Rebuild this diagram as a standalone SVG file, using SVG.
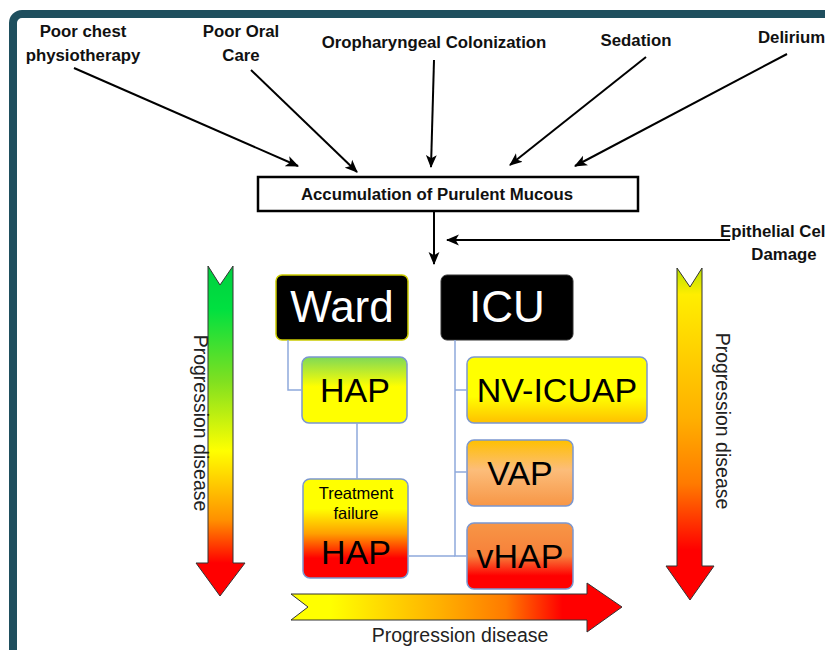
<svg xmlns="http://www.w3.org/2000/svg" width="825" height="650" viewBox="0 0 825 650">
<style>
.lbl{font-family:"Liberation Sans",Arial,sans-serif;font-weight:bold;font-size:16.8px;fill:#111;text-anchor:middle}
.big{font-family:"Liberation Sans",Arial,sans-serif;font-size:34px;fill:#000;text-anchor:middle}
.prog{font-family:"Liberation Sans",Arial,sans-serif;font-size:19.5px;fill:#222;text-anchor:middle}
.conn{stroke:#000;stroke-width:2;fill:none;marker-end:url(#ah)}
.tree{stroke:#8ea9db;stroke-width:1.5;fill:none}
.node{stroke:#7b97d0;stroke-width:1.5}
</style>
<defs>
<marker id="ah" viewBox="0 0 12 10" refX="11" refY="5" markerWidth="6.5" markerHeight="6" markerUnits="strokeWidth" orient="auto">
<path d="M0,0 L12,5 L0,10 L3,5 Z" fill="#000"/>
</marker>
<linearGradient id="gHAP" x1="0" y1="0" x2="0" y2="1">
<stop offset="0" stop-color="#7ed957"/><stop offset="0.45" stop-color="#ffff00"/><stop offset="1" stop-color="#ffff00"/>
</linearGradient>
<linearGradient id="gTF" x1="0" y1="0" x2="0" y2="1">
<stop offset="0" stop-color="#ffff00"/><stop offset="0.3" stop-color="#ffff00"/><stop offset="0.55" stop-color="#ffa000"/><stop offset="0.8" stop-color="#ff0000"/><stop offset="1" stop-color="#ff0000"/>
</linearGradient>
<linearGradient id="gNV" x1="0" y1="0" x2="0" y2="1">
<stop offset="0" stop-color="#ffff00"/><stop offset="0.6" stop-color="#ffff00"/><stop offset="1" stop-color="#ffc000"/>
</linearGradient>
<linearGradient id="gVAP" x1="0" y1="0" x2="0" y2="1">
<stop offset="0" stop-color="#ffc000"/><stop offset="0.45" stop-color="#fcbd7a"/><stop offset="1" stop-color="#f79646"/>
</linearGradient>
<linearGradient id="gvHAP" x1="0" y1="0" x2="0" y2="1">
<stop offset="0" stop-color="#f79646"/><stop offset="0.5" stop-color="#f7803a"/><stop offset="0.8" stop-color="#ff0000"/><stop offset="1" stop-color="#ff0000"/>
</linearGradient>
<linearGradient id="gL" gradientUnits="userSpaceOnUse" x1="0" y1="266" x2="0" y2="596">
<stop offset="0" stop-color="#00d040"/><stop offset="0.13" stop-color="#00e040"/><stop offset="0.35" stop-color="#80e020"/><stop offset="0.56" stop-color="#ffff00"/><stop offset="0.77" stop-color="#ff9000"/><stop offset="0.9" stop-color="#ff0000"/><stop offset="1" stop-color="#ff0000"/>
</linearGradient>
<linearGradient id="gR" gradientUnits="userSpaceOnUse" x1="0" y1="268" x2="0" y2="600">
<stop offset="0" stop-color="#b8e000"/><stop offset="0.08" stop-color="#ffee00"/><stop offset="0.45" stop-color="#ffb000"/><stop offset="0.65" stop-color="#ff7a00"/><stop offset="0.85" stop-color="#ff0000"/><stop offset="1" stop-color="#ff0000"/>
</linearGradient>
<linearGradient id="gB" gradientUnits="userSpaceOnUse" x1="291" y1="0" x2="622" y2="0">
<stop offset="0" stop-color="#ffff00"/><stop offset="0.12" stop-color="#ffff00"/><stop offset="0.45" stop-color="#ffb000"/><stop offset="0.65" stop-color="#ff7a00"/><stop offset="0.82" stop-color="#ff0000"/><stop offset="1" stop-color="#ff0000"/>
</linearGradient>
</defs>
<rect x="0" y="0" width="825" height="650" fill="#fff"/>
<rect x="13" y="14" width="900" height="900" rx="9" fill="#fff" stroke="#1f4f5e" stroke-width="8"/>

<g id="factors">
<g id="f-chest"><text class="lbl" x="83" y="37">Poor chest</text><text class="lbl" x="83" y="61">physiotherapy</text></g>
<g id="f-oral"><text class="lbl" x="241" y="37">Poor Oral</text><text class="lbl" x="241" y="61">Care</text></g>
<g id="f-oro"><text class="lbl" x="434" y="48">Oropharyngeal Colonization</text></g>
<g id="f-sed"><text class="lbl" x="636" y="46">Sedation</text></g>
<g id="f-del"><text class="lbl" x="758" y="43" style="text-anchor:start">Delirium</text></g>
<g id="f-epi"><text class="lbl" x="720" y="237" style="text-anchor:start">Epithelial Cell</text><text class="lbl" x="784" y="260">Damage</text></g>
</g>

<g id="accum">
<rect x="258" y="177" width="380" height="34" fill="#fff" stroke="#000" stroke-width="2.5"/>
<text class="lbl" x="437" y="200">Accumulation of Purulent Mucous</text>
</g>

<g id="ward">
<rect x="276" y="275" width="132" height="65" rx="6" fill="#000" stroke="#cccc00" stroke-width="1.5"/>
<text class="big" x="342" y="322" style="fill:#fff;font-size:44px">Ward</text>
</g>
<g id="icu">
<rect x="441" y="275" width="132" height="65" rx="6" fill="#000" stroke="#333" stroke-width="1"/>
<text class="big" x="507" y="322" style="fill:#fff;font-size:44px">ICU</text>
</g>
<g id="hap">
<rect class="node" x="302" y="357" width="105" height="66" rx="7" fill="url(#gHAP)"/>
<text class="big" x="355" y="402">HAP</text>
</g>
<g id="tf-hap">
<rect class="node" x="303" y="479" width="105" height="99" rx="7" fill="url(#gTF)"/>
<text class="big" x="356" y="499" style="font-size:16.5px">Treatment</text>
<text class="big" x="356" y="519" style="font-size:16.5px">failure</text>
<text class="big" x="356" y="564">HAP</text>
</g>
<g id="nv-icuap">
<rect class="node" x="467" y="357" width="180" height="66" rx="7" fill="url(#gNV)"/>
<text class="big" x="557" y="402">NV-ICUAP</text>
</g>
<g id="vap">
<rect class="node" x="467" y="440" width="106" height="66" rx="7" fill="url(#gVAP)"/>
<text class="big" x="520" y="485">VAP</text>
</g>
<g id="vhap">
<rect class="node" x="467" y="523" width="106" height="66" rx="7" fill="url(#gvHAP)"/>
<text class="big" x="520" y="568">vHAP</text>
</g>

<g id="arrow-left">
<path d="M208,266 L220,285 L233,266 L233,563 L245,563 L220,596 L196,563 L208,563 Z" fill="url(#gL)" stroke="#333" stroke-width="1"/>
<text class="prog" transform="translate(194,423) rotate(90)">Progression disease</text>
</g>
<g id="arrow-right">
<path d="M677,268 L690,287 L702,268 L702,566 L714,566 L690,600 L666,566 L677,566 Z" fill="url(#gR)" stroke="#333" stroke-width="1"/>
<text class="prog" transform="translate(716,421) rotate(90)">Progression disease</text>
</g>
<g id="arrow-bottom">
<path d="M291,594 L308,607 L291,620 L587,620 L587,632 L622,607 L587,583 L587,594 Z" fill="url(#gB)" stroke="#333" stroke-width="1"/>
<text class="prog" x="460" y="642">Progression disease</text>
</g>

<g id="connectors">
<line class="conn" x1="74" y1="68" x2="298" y2="166"/>
<line class="conn" x1="251" y1="70" x2="357" y2="172"/>
<line class="conn" x1="434" y1="60" x2="431" y2="167"/>
<line class="conn" x1="646" y1="57" x2="510" y2="165"/>
<line class="conn" x1="787" y1="54" x2="575" y2="166"/>
<line class="conn" x1="434" y1="212" x2="434" y2="264"/>
<line class="conn" x1="730" y1="240" x2="447" y2="240"/>
<path class="tree" d="M288,340 V390 H302"/>
<path class="tree" d="M357,423 V479"/>
<path class="tree" d="M408,556 H455"/>
<path class="tree" d="M455,340 V556 H467 M455,390 H467 M455,472 H467"/>
</g>
</svg>
